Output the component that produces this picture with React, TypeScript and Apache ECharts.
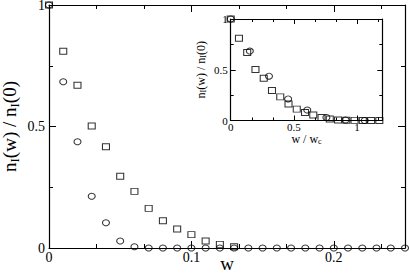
import React, { useEffect, useRef } from "react";
import * as echarts from "echarts";

// Main panel data (w, n_I(w)/n_I(0))
const circleW = [0, 0.01, 0.02, 0.03, 0.04, 0.05, 0.06, 0.07, 0.08, 0.09, 0.1, 0.11, 0.12, 0.13, 0.14, 0.15, 0.16, 0.17, 0.18, 0.19, 0.2, 0.21, 0.22, 0.23, 0.24, 0.25];
const circleN = [1, 0.684, 0.437, 0.213, 0.104, 0.029, 0.005, 0, 0, 0, 0, 0, 0, 0, 0, 0, 0, 0, 0, 0, 0, 0, 0, 0, 0, 0];
const squareW = [0, 0.01, 0.02, 0.03, 0.04, 0.05, 0.06, 0.07, 0.08, 0.09, 0.1, 0.11, 0.12, 0.13];
const squareN = [1, 0.81, 0.67, 0.502, 0.417, 0.295, 0.233, 0.163, 0.112, 0.078, 0.055, 0.029, 0.015, 0.005];

// Inset data (scaled by w_c)
const insetSquareW = [0, 0.01, 0.02, 0.03, 0.04, 0.05, 0.06, 0.07, 0.08, 0.09, 0.1, 0.11, 0.12, 0.13, 0.14, 0.15, 0.16, 0.17, 0.18];
const insetSquareN = [1, 0.81, 0.67, 0.502, 0.417, 0.295, 0.233, 0.163, 0.112, 0.078, 0.055, 0.029, 0.015, 0.005, 0.002, 0.001, 0, 0, 0];
const insetCircleW = [0, 0.01, 0.02, 0.03, 0.04, 0.05, 0.06, 0.07];
const insetCircleN = [1, 0.684, 0.437, 0.213, 0.104, 0.029, 0.005, 0];
const wcSquare = 0.153;
const wcCircle = 0.066;

// Tick labels
const mainXTicks = [0, 0.1, 0.2];
const mainYTicks = [0, 0.5, 1];
const insetXTicks = [0, 0.5, 1];
const insetYTicks = [0, 0.5, 1];

const FONT = "Liberation Serif";

const fmt = (ticks: number[]) => (v: number) =>
  ticks.some((t) => Math.abs(t - v) < 1e-9) ? String(v) : "";

function makeAxisPair(
  kind: "x" | "y",
  grid: number,
  min: number,
  max: number,
  interval: number,
  minorSplit: number,
  ticks: number[],
  labelSize: number,
  labelMargin: number,
  tickLen: number,
  minorLen: number,
  name: any
) {
  const common = {
    type: "value",
    gridIndex: grid,
    min,
    max,
    interval,
    splitLine: { show: false },
    axisLine: { show: true, onZero: false, lineStyle: { color: "#000", width: 1.2 } },
    axisTick: { show: true, inside: true, length: tickLen, lineStyle: { color: "#000", width: 1 } },
    minorTick: { show: true, splitNumber: minorSplit, length: minorLen, lineStyle: { color: "#000", width: 1 } },
  };
  const primary = {
    ...common,
    position: kind === "x" ? "bottom" : "left",
    nameMoveOverlap: false,
    axisLabel: {
      show: true,
      formatter: fmt(ticks),
      color: "#000",
      fontFamily: FONT,
      fontSize: labelSize,
      margin: labelMargin,
      showMinLabel: true,
      showMaxLabel: true,
    },
    ...name,
  };
  const secondary = {
    ...common,
    position: kind === "x" ? "top" : "right",
    axisLabel: { show: false },
  };
  return [primary, secondary];
}

export default function App() {
  const ref = useRef<HTMLDivElement>(null);
  useEffect(() => {
    document.body.style.margin = "0";
    if (!ref.current) return;
    const chart = echarts.init(ref.current, null, { renderer: "svg" });

    const richMain = {
      n: { fontFamily: FONT, fontSize: 19, color: "#000" },
      s: { fontFamily: FONT, fontSize: 13, color: "#000", verticalAlign: "bottom", padding: [10, 0, 0, 0] },
    };
    const richInset = {
      n: { fontFamily: FONT, fontSize: 12, color: "#000" },
      s: { fontFamily: FONT, fontSize: 8, color: "#000", verticalAlign: "bottom", padding: [6, 0, 0, 0] },
    };

    const [mx0, mx1] = makeAxisPair("x", 0, 0, 0.25, 0.1, 3, mainXTicks, 14, 2, 7, 4, {
      name: "w",
      nameLocation: "middle",
      nameGap: 6,
      nameTextStyle: { fontFamily: FONT, fontSize: 19, color: "#000" },
    });
    const [my0, my1] = makeAxisPair("y", 0, 0, 1, 0.5, 2, mainYTicks, 14, 4, 7, 4, {
      name: "{n|n}{s|I}{n|(w) / n}{s|I}{n|(0)}",
      nameLocation: "middle",
      nameGap: 28,
      nameTextStyle: { rich: richMain },
    });
    const [ix0, ix1] = makeAxisPair("x", 1, 0, 1.2, 0.5, 3, insetXTicks, 11, 1, 5, 3, {
      name: "{n|w / w}{s|c}",
      nameLocation: "middle",
      nameGap: 11,
      nameTextStyle: { rich: richInset },
    });
    const [iy0, iy1] = makeAxisPair("y", 1, 0, 1, 0.5, 2, insetYTicks, 11, 3, 5, 3, {
      name: "{n|n}{s|I}{n|(w) / n}{s|I}{n|(0)}",
      nameLocation: "middle",
      nameGap: 23,
      nameTextStyle: { rich: richInset },
    });

    const hollow = { color: "transparent", borderColor: "#000", borderWidth: 1 };

    chart.setOption({
      animation: false,
      backgroundColor: "#fff",
      grid: [
        { left: 49, top: 5, right: 4, bottom: 25, containLabel: false, outerBoundsMode: "none" },
        { left: 230.7, top: 19, right: 26.7, bottom: 152.5, containLabel: false, outerBoundsMode: "none" },
      ],
      xAxis: [mx0, mx1, ix0, ix1],
      yAxis: [my0, my1, iy0, iy1],
      series: [
        {
          type: "scatter",
          xAxisIndex: 0,
          yAxisIndex: 0,
          symbol: "rect",
          symbolSize: [7, 6],
          itemStyle: hollow,
          clip: false,
          data: squareW.map((w, i) => [w, squareN[i]]),
        },
        {
          type: "scatter",
          xAxisIndex: 0,
          yAxisIndex: 0,
          symbol: "circle",
          symbolSize: [7, 6],
          itemStyle: hollow,
          clip: false,
          data: circleW.map((w, i) => [w, circleN[i]]),
        },
        {
          type: "scatter",
          xAxisIndex: 2,
          yAxisIndex: 2,
          symbol: "rect",
          symbolSize: [7, 6],
          itemStyle: hollow,
          clip: false,
          data: insetSquareW.map((w, i) => [w / wcSquare, insetSquareN[i]]),
        },
        {
          type: "scatter",
          xAxisIndex: 2,
          yAxisIndex: 2,
          symbol: "circle",
          symbolSize: [7, 6],
          itemStyle: hollow,
          clip: false,
          data: insetCircleW.map((w, i) => [w / wcCircle, insetCircleN[i]]),
        },
      ],
    });
    return () => chart.dispose();
  }, []);
  return <div ref={ref} style={{ width: 409, height: 273 }} />;
}
